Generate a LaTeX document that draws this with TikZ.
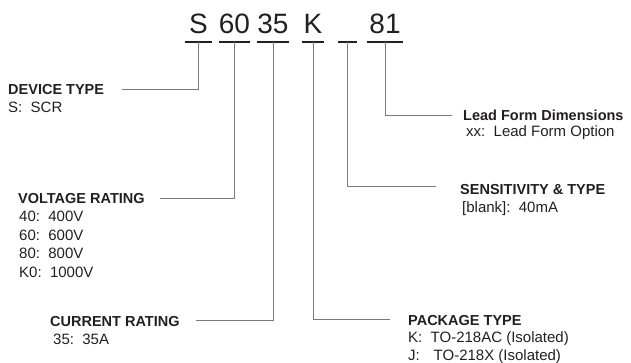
\documentclass[tikz,border=0pt]{standalone}
\usepackage{fontspec}
\setmainfont{Liberation Sans}
\usepackage{tikz}
\usetikzlibrary{positioning}
\definecolor{ink}{HTML}{231F20}
\definecolor{wire}{HTML}{7A7A7A}

\begin{document}
\begin{tikzpicture}[x=1pt, y=-1pt,
  field/.style={font=\fontsize{28}{28}\selectfont, text=ink, inner sep=0pt,
    text height=21pt, text depth=8pt, anchor=south},
  uline/.style={draw=ink, line width=2.2pt},
  head/.style={font=\fontsize{14.5}{17}\selectfont\bfseries, text=ink,
    inner sep=0pt, text height=10.5pt, text depth=0pt, anchor=base west},
  items/.style={font=\fontsize{15}{18.5}\selectfont, text=ink,
    inner sep=0pt, align=left},
  wireline/.style={draw=wire, line width=0.9pt}]
\useasboundingbox (0,0) rectangle (631,363);
% part number fields with their underlines
\foreach \nm/\cx/\fw/\txt in {fS/198.5/27/S, f60/234.5/25/60, f35/273/30/35,
    fK/313/22/K, fB/347.5/19/{}, f81/385/36/81} {
  \node[field, minimum width=\fw] (\nm) at (\cx,42) {\txt};
  \draw[uline] (\nm.south west) -- (\nm.south east);
}
% headings
\node[head] (devT) at (8,95) {DEVICE TYPE};
\node[head] (volT) at (18,204) {VOLTAGE RATING};
\node[head] (curT) at (50,326) {CURRENT RATING};
\node[head] (pkgT) at (408,325) {PACKAGE TYPE};
\node[head] (senT) at (460,195) {SENSITIVITY \& TYPE};
\node[head] (leadT) at (463,121) {Lead Form Dimensions};
% option lists
\node[items, below=7pt of devT.south west, anchor=north west] (devL) {S:\ \ SCR};
\node[items, below=7pt of volT.south west, anchor=north west, xshift=1pt] (volL)
  {40:\ \ 400V\\60:\ \ 600V\\80:\ \ 800V\\K0:\ \ 1000V};
\node[items, below=8pt of curT.south west, anchor=north west, xshift=3pt] (curL) {35:\ \ 35A};
\node[items, below=6pt of pkgT.south west, anchor=north west] (pkgL)
  {K:\ \ TO-218AC (Isolated)\\J:\ \ \hspace{5.5pt}TO-218X (Isolated)};
\node[items, below=6pt of senT.south west, anchor=north west, xshift=2pt] (senL) {[blank]:\ \ 40mA};
\node[items, below=4pt of leadT.south west, anchor=north west, xshift=3pt] (leadL) {xx:\ \ Lead Form Option};
% connectors
\draw[wireline, shorten <=18pt] (devT.east) -| (fS.south);
\draw[wireline, shorten <=15pt] (volT.east) -| (f60.south);
\draw[wireline, shorten <=16pt] (curT.east) -| (f35.south);
\draw[wireline, shorten >=18pt] (fK.south) |- (pkgT.west);
\draw[wireline, shorten >=24pt] (fB.south) |- ([yshift=3pt]senT.west);
\draw[wireline, shorten >=11pt] (f81.south) |- (leadT.west);
\end{tikzpicture}
\end{document}
